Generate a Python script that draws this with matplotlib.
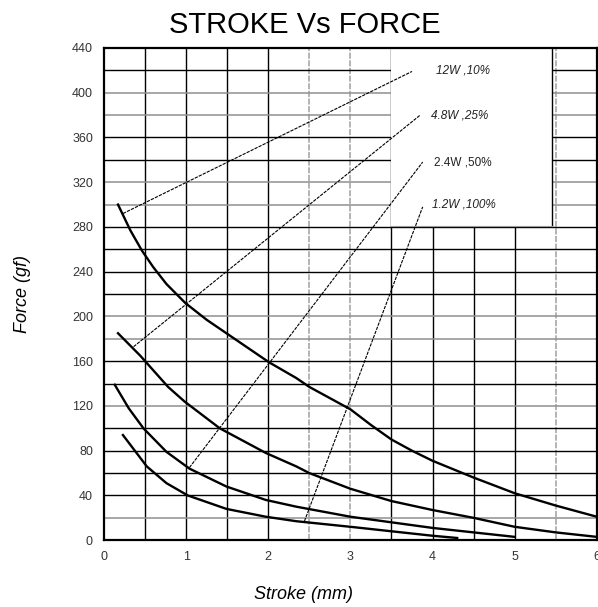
import matplotlib.pyplot as plt
from matplotlib.patches import Rectangle

plt.rcParams['font.family'] = ['Liberation Sans', 'DejaVu Sans']

# curve data (stroke mm, force gf)
stroke12 = [0.17, 0.32, 0.46, 0.6, 0.76, 0.99, 1.25, 1.49, 1.77, 2.01, 2.34, 2.5, 3.0, 3.25,
            3.5, 3.75, 4.0, 4.5, 5.0, 5.5, 6.0]
force12 = [300, 277, 259, 244, 229, 212, 197, 185, 171, 159, 145, 137, 117, 103,
           90, 80, 71, 56, 42, 31, 21]

stroke48 = [0.17, 0.44, 0.78, 0.98, 1.41, 1.97, 2.34, 2.5, 3.0, 3.5, 4.0, 4.5, 5.0, 5.5, 6.0]
force48 = [185, 165, 137, 124, 100, 78, 66, 60, 46, 35, 27, 20, 12, 7, 3]

stroke24 = [0.13, 0.3, 0.48, 0.76, 1.04, 1.49, 1.97, 2.34, 3.0, 3.5, 4.0, 4.5, 5.0]
force24 = [139, 118, 100, 79, 64, 48, 36, 30, 21, 16, 11, 7, 3]

stroke12b = [0.23, 0.52, 0.76, 1.02, 1.49, 1.97, 2.34, 3.0, 3.5, 4.0, 4.3]
force12b = [94, 66, 51, 40, 28, 21, 17, 12, 8, 4, 2]

labels = ['12W ,10%', '4.8W ,25%', '2.4W ,50%', '1.2W ,100%']
label_x = [4.04, 3.98, 4.02, 3.99]
label_y = [420, 380, 338, 300]
# leader lines: (x0, y0) on the curve -> (x1, y1) near the label
lead_x0 = [0.23, 0.36, 1.04, 2.44]
lead_y0 = [292, 173, 65, 17]
lead_x1 = [3.75, 3.85, 3.88, 3.88]
lead_y1 = [419, 380, 338, 298]

xticks = [0, 1, 2, 3, 4, 5, 6]
yticks = [0, 40, 80, 120, 160, 200, 240, 280, 320, 360, 400, 440]

# graph paper lines: dark ones and faint ones
vdark = [0.5, 1.0, 1.5, 2.0, 3.5, 4.0, 4.5, 5.0]
vfaint = [2.5, 3.0, 5.5]
hdark = [40, 60, 80, 100, 140, 160, 220, 240, 260, 280, 340, 360, 420]
hfaint = [20, 120, 180, 200, 300, 320, 380, 400]

fig = plt.figure(figsize=(5.98, 6.07), dpi=100)
ax = fig.add_axes([0.174, 0.110, 0.824, 0.811])

for x in vdark:
    ax.axvline(x, color='black', lw=1.0, zorder=1)
for x in vfaint:
    ax.axvline(x, color='#a0a0a0', lw=1.1, ls=(0, (4, 1)), zorder=1)
for y in hdark:
    ax.axhline(y, color='black', lw=1.0, zorder=1)
for y in hfaint:
    ax.axhline(y, color='#909090', lw=1.1, zorder=1)

# white box behind the labels
ax.add_patch(Rectangle((3.5, 281), 1.95, 160, facecolor='white', edgecolor='none', zorder=2))
ax.plot([5.45, 5.45], [281, 440], color='black', lw=1.0, zorder=2)
ax.plot([3.5, 5.45], [281, 281], color='#9a9a9a', lw=0.8, zorder=2)

for xs, ys in [(stroke12, force12), (stroke48, force48), (stroke24, force24), (stroke12b, force12b)]:
    ax.plot(xs, ys, color='black', lw=1.7, zorder=4, solid_joinstyle='round')

for i in range(len(labels)):
    ax.plot([lead_x0[i], lead_x1[i]], [lead_y0[i], lead_y1[i]], color='black',
            lw=0.8, ls=(0, (3, 1)), zorder=3)
    style = 'normal' if i == 2 else 'italic'
    ax.text(label_x[i], label_y[i], labels[i], fontsize=8.5, style=style,
            ha='left', va='center', color='#222222', zorder=5)

ax.set_xlim(0, 6)
ax.set_ylim(0, 440)
ax.set_xticks(xticks)
ax.set_yticks(yticks)
ax.set_xticklabels([str(t) for t in xticks])
ax.set_yticklabels([str(t) for t in yticks])
ax.tick_params(length=0, labelsize=9, colors='#333333', pad=8)
for s in ax.spines.values():
    s.set_linewidth(1.6)
    s.set_color('black')

fig.text(0.51, 0.958, 'STROKE Vs FORCE', fontsize=21, ha='center', va='center')
fig.text(0.508, 0.02, 'Stroke (mm)', fontsize=13, style='italic', ha='center', va='center')
fig.text(0.038, 0.515, 'Force (gf)', fontsize=13, style='italic', rotation=90,
         ha='center', va='center')

fig.savefig('out.png', dpi=100)
